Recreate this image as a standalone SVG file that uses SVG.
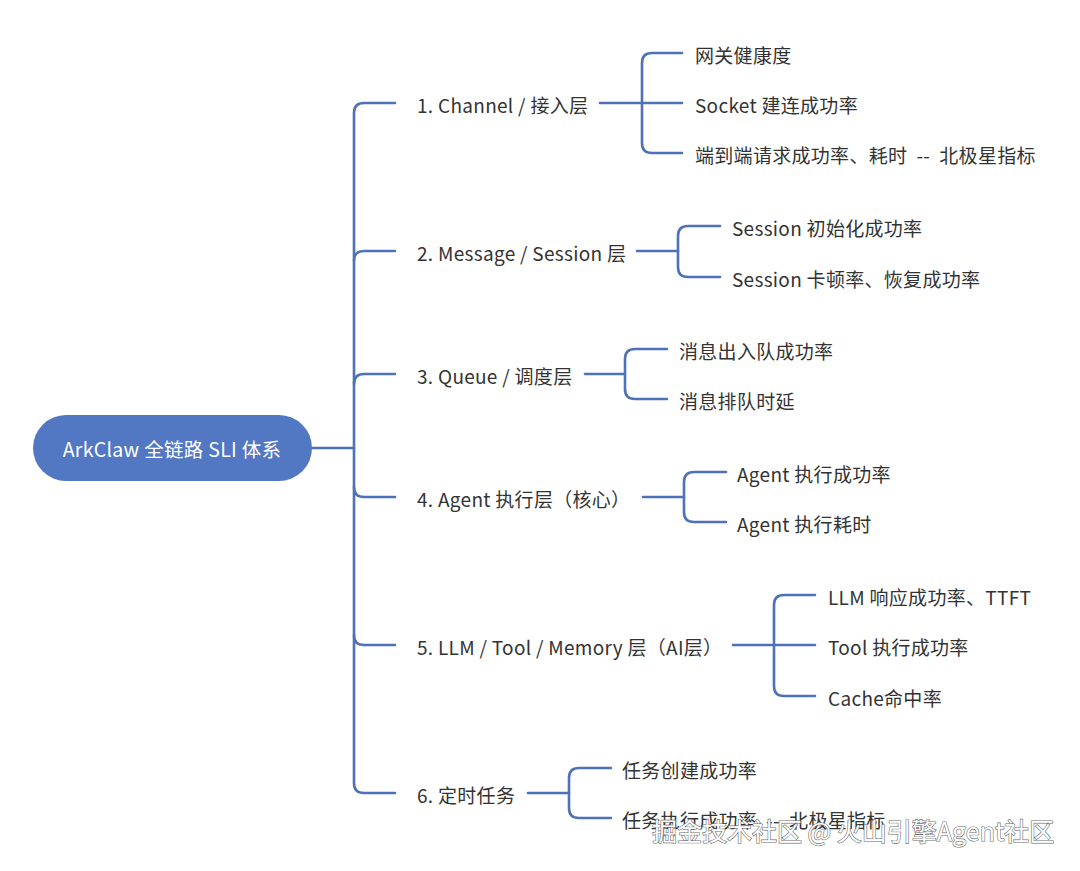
<svg xmlns="http://www.w3.org/2000/svg" width="1080" height="871" viewBox="0 0 1080 871">
<style>
.c{fill:none;stroke:#4e72b8;stroke-width:2.6;stroke-linecap:round;stroke-linejoin:round}
.t{font-family:"Noto Sans CJK SC","Noto Sans",sans-serif;font-size:19px;letter-spacing:0.3px;fill:#333;dominant-baseline:central;white-space:pre}
.r{font-family:"Noto Sans CJK SC","Noto Sans",sans-serif;font-size:19.5px;letter-spacing:0.3px;fill:#fff;dominant-baseline:central;text-anchor:middle}
.w{font-family:"Noto Sans CJK SC","Noto Sans",sans-serif;font-size:25px;fill:#fff;stroke:#6a6a6a;stroke-width:1.2;paint-order:stroke;dominant-baseline:central}
</style>
<rect width="1080" height="871" fill="#fff"/>
<g id="connectors">
<path class="c" d="M312,448 H354"/>
<path class="c" d="M395,103 H364 Q354,103 354,113 V783 Q354,793 364,793 H395"/>
<path class="c" d="M354,261 Q354,251 364,251 H395"/>
<path class="c" d="M354,384 Q354,374 364,374 H395"/>
<path class="c" d="M354,487 Q354,497 364,497 H395"/>
<path class="c" d="M354,635 Q354,645 364,645 H395"/>
<path class="c" d="M600,103 H682"/>
<path class="c" d="M682,53 H652 Q642,53 642,63 V143 Q642,153 652,153 H682"/>
<path class="c" d="M637,251 H678"/>
<path class="c" d="M720,226 H688 Q678,226 678,236 V267 Q678,277 688,277 H720"/>
<path class="c" d="M585,374 H625"/>
<path class="c" d="M667,349 H635 Q625,349 625,359 V389 Q625,399 635,399 H667"/>
<path class="c" d="M643,497 H684"/>
<path class="c" d="M726,472 H694 Q684,472 684,482 V512 Q684,522 694,522 H726"/>
<path class="c" d="M733,645 H815"/>
<path class="c" d="M815,595 H784 Q774,595 774,605 V686 Q774,696 784,696 H815"/>
<path class="c" d="M528,793 H569"/>
<path class="c" d="M611,768 H579 Q569,768 569,778 V808 Q569,818 579,818 H611"/>
</g>
<g id="root"><rect x="33" y="415" width="279" height="66" rx="33" fill="#5277c3"/><text class="r" x="172" y="448">ArkClaw 全链路 SLI 体系</text></g>
<g id="n1"><text class="t" x="417" y="104">1. Channel / 接入层</text></g>
<g id="n1a"><text class="t" x="695" y="54">网关健康度</text></g>
<g id="n1b"><text class="t" x="695" y="104">Socket 建连成功率</text></g>
<g id="n1c"><text class="t" x="695" y="154">端到端请求成功率、耗时  --  北极星指标</text></g>
<g id="n2"><text class="t" x="417" y="252">2. Message / Session 层</text></g>
<g id="n2a"><text class="t" x="732" y="227">Session 初始化成功率</text></g>
<g id="n2b"><text class="t" x="732" y="278">Session 卡顿率、恢复成功率</text></g>
<g id="n3"><text class="t" x="417" y="375">3. Queue / 调度层</text></g>
<g id="n3a"><text class="t" x="679" y="350">消息出入队成功率</text></g>
<g id="n3b"><text class="t" x="679" y="400">消息排队时延</text></g>
<g id="n4"><text class="t" x="417" y="498">4. Agent 执行层（核心）</text></g>
<g id="n4a"><text class="t" x="737" y="473">Agent 执行成功率</text></g>
<g id="n4b"><text class="t" x="737" y="523">Agent 执行耗时</text></g>
<g id="n5"><text class="t" x="417" y="646">5. LLM / Tool / Memory 层（AI层）</text></g>
<g id="n5a"><text class="t" x="828" y="596">LLM 响应成功率、TTFT</text></g>
<g id="n5b"><text class="t" x="828" y="646">Tool 执行成功率</text></g>
<g id="n5c"><text class="t" x="828" y="697">Cache命中率</text></g>
<g id="n6"><text class="t" x="417" y="794">6. 定时任务</text></g>
<g id="n6a"><text class="t" x="622" y="769">任务创建成功率</text></g>
<g id="n6b"><text class="t" x="622" y="819">任务执行成功率  --  北极星指标</text></g>
<text class="w" x="652" y="830">掘金技术社区 @ 火山引擎Agent社区</text>
</svg>
